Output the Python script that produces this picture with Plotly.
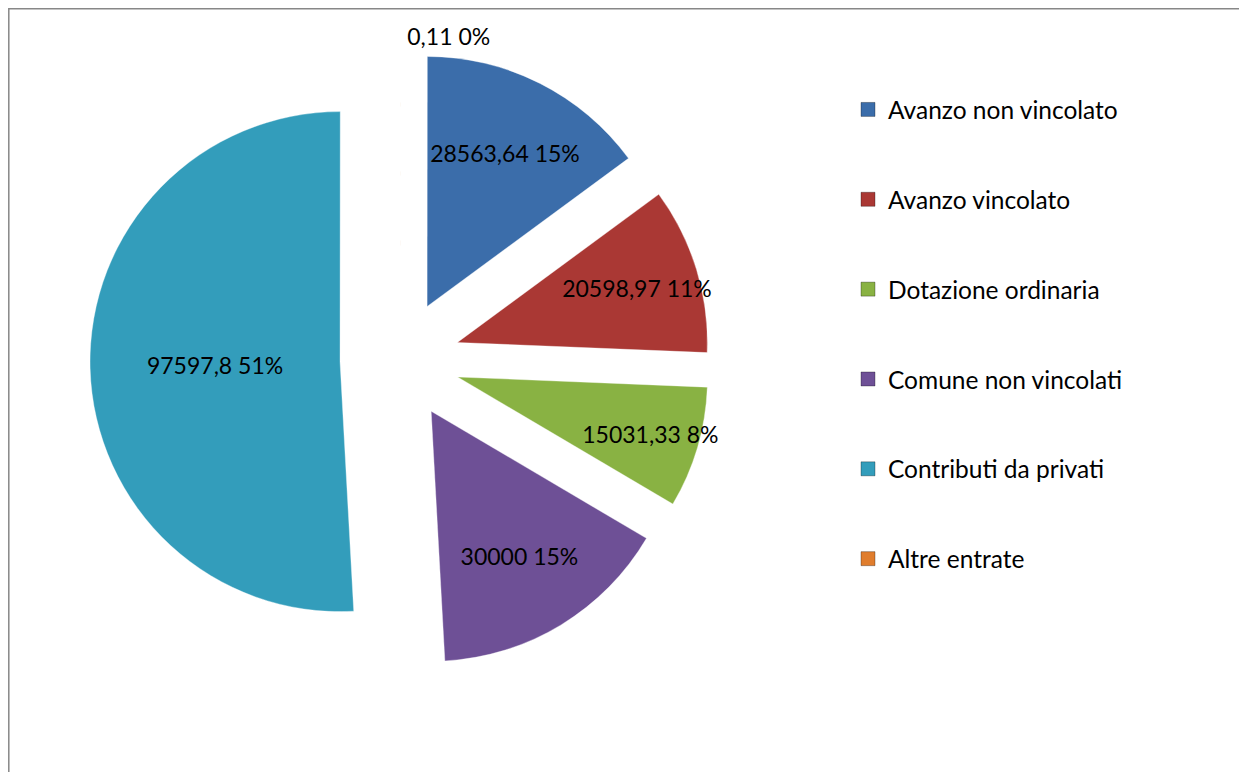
import plotly.graph_objects as go

labels = ["Avanzo non vincolato", "Avanzo vincolato", "Dotazione ordinaria",
          "Comune non vincolati", "Contributi da privati", "Altre entrate"]
values = [28563.64, 20598.97, 15031.33, 30000, 97597.8, 0.11]
pct_labels = ["15%", "11%", "8%", "15%", "51%", "0%"]
colors = ["#3B6DAA", "#AA3834", "#89B243", "#6E5096", "#339DBB", "#E07D2D"]

OFF = 8  # page body margin in the photographed page
W, H = 1247 - 2 * OFF, 780 - 2 * OFF
FONT = "Lato"


def px(x):
    return (x - OFF) / W


def py(y):
    return 1 - (y - OFF) / H


fig = go.Figure()
fig.add_trace(go.Pie(
    labels=labels, values=values, text=pct_labels,
    texttemplate="%{value:.7~g} %{text}",
    textposition=["inside"] * 5 + ["outside"],
    insidetextorientation="horizontal",
    textfont=dict(family=FONT, size=23, color="black"),
    marker=dict(colors=colors, line=dict(color="rgba(255,255,255,0.35)", width=1)),
    sort=False, direction="clockwise", rotation=0.05,
    pull=[0.24] * 6,
    showlegend=False,
    hoverinfo="label+value+percent",
    domain=dict(x=[px(90), px(710)], y=[py(670), py(50)]),
))

for lab, col in zip(labels, colors):
    fig.add_trace(go.Scatter(
        x=[None], y=[None], mode="markers", name=lab,
        marker=dict(symbol="square", size=14, color=col,
                    line=dict(color="rgba(0,0,0,0.3)", width=1)),
        legendgroup=lab, showlegend=True, hoverinfo="skip",
    ))

fig.update_layout(
    width=W, height=H,
    separators=",.",
    paper_bgcolor="white", plot_bgcolor="white",
    margin=dict(l=0, r=0, t=0, b=0, pad=0, autoexpand=False),
    uniformtext=dict(minsize=23, mode="show"),
    xaxis=dict(visible=False), yaxis=dict(visible=False),
    legend=dict(x=px(848), y=py(87), xanchor="left", yanchor="top",
                font=dict(family=FONT, size=24.5, color="black"),
                tracegroupgap=55, itemwidth=30, bgcolor="rgba(0,0,0,0)"),
    shapes=[dict(type="rect", xref="paper", yref="paper",
                 x0=0.8 / W, x1=1.05, y0=-0.05, y1=1 - 0.8 / H,
                 line=dict(color="#878787", width=1.5), layer="above")],
)

fig.write_html("out.html")
